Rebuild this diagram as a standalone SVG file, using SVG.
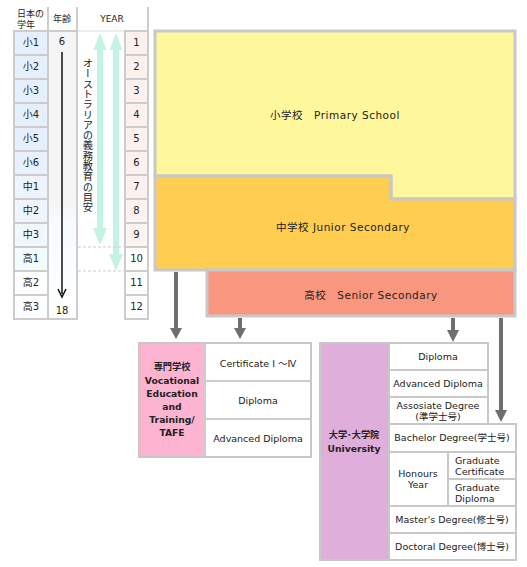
<svg xmlns="http://www.w3.org/2000/svg" width="527" height="567" viewBox="0 0 527 567">
<style>
text{font-family:"DejaVu Sans","Noto Sans CJK JP",sans-serif;fill:#222;}
.c{text-anchor:middle;}
.s{font-size:9.5px;}
.t{font-size:10px;}
.h{font-size:9px;}
.b{font-weight:bold;font-size:9.2px;}
.m{font-size:10.5px;letter-spacing:0.5px;}
.cell{stroke:#cccccc;stroke-width:2;}
.line{stroke:#cccccc;stroke-width:2;fill:none;}
.box{stroke:#c8c8c8;stroke-width:2;fill:#fff;}
.ga{stroke:#6e6e6e;stroke-width:4;fill:none;}
.gh{fill:#6e6e6e;}
.mint{fill:#c4f2e4;}
</style>
<defs>
<linearGradient id="ageg" x1="0" y1="0" x2="0" y2="1">
<stop offset="0" stop-color="#f5f5f5"/>
<stop offset="0.6" stop-color="#f5f5f5"/>
<stop offset="0.66" stop-color="#f6fbfe"/>
<stop offset="1" stop-color="#ffffff"/>
</linearGradient>
</defs>
<rect width="527" height="567" fill="#fff"/>

<g id="table">
<line class="line" x1="48" y1="7" x2="48" y2="31"/>
<line class="line" x1="77" y1="7" x2="77" y2="320"/>
<line class="line" x1="148" y1="7" x2="148" y2="31"/>
<line stroke="#dddddd" stroke-width="1" x1="77" y1="31" x2="125" y2="31"/>
<text class="h" x="17" y="17">日本の</text>
<text class="h" x="17" y="28">学年</text>
<text class="h c" x="62" y="22">年齢</text>
<text class="h c" x="112" y="22">YEAR</text>

<rect class="cell" x="14" y="31" width="34" height="24" fill="#e6f0fd"/>
<rect class="cell" x="14" y="55" width="34" height="24" fill="#e6f0fd"/>
<rect class="cell" x="14" y="79" width="34" height="24" fill="#e6f0fd"/>
<rect class="cell" x="14" y="103" width="34" height="24" fill="#e6f0fd"/>
<rect class="cell" x="14" y="127" width="34" height="24" fill="#e6f0fd"/>
<rect class="cell" x="14" y="151" width="34" height="24" fill="#e8f1fd"/>
<rect class="cell" x="14" y="175" width="34" height="24" fill="#eef3fd"/>
<rect class="cell" x="14" y="199" width="34" height="24" fill="#f0f4fd"/>
<rect class="cell" x="14" y="223" width="34" height="24" fill="#f2f6fd"/>
<rect class="cell" x="14" y="247" width="34" height="24" fill="#f3fcfc"/>
<rect class="cell" x="14" y="271" width="34" height="24" fill="#ffffff"/>
<rect class="cell" x="14" y="295" width="34" height="24" fill="#ffffff"/>
<g class="t">
<text class="c" x="31" y="46">小1</text>
<text class="c" x="31" y="70">小2</text>
<text class="c" x="31" y="94">小3</text>
<text class="c" x="31" y="118">小4</text>
<text class="c" x="31" y="142">小5</text>
<text class="c" x="31" y="166">小6</text>
<text class="c" x="31" y="190">中1</text>
<text class="c" x="31" y="214">中2</text>
<text class="c" x="31" y="238">中3</text>
<text class="c" x="31" y="262">高1</text>
<text class="c" x="31" y="286">高2</text>
<text class="c" x="31" y="310">高3</text>
</g>

<rect class="cell" x="48" y="31" width="29" height="288" fill="url(#ageg)"/>
<text class="t c" x="62" y="45">6</text>
<text class="t c" x="62" y="314">18</text>
<line x1="62" y1="52" x2="62" y2="294" stroke="#111" stroke-width="1.5"/>
<path d="M58 289 L62 297 L66 289" stroke="#111" stroke-width="1.5" fill="none"/>

<path class="mint" d="M100 33 L106.5 50 L103 50 L103 228 L107 228 L100 245 L93 228 L97 228 L97 50 L93.5 50 Z"/>
<path class="mint" d="M116 33 L122.5 50 L119 50 L119 254 L123 254 L116 271 L109 254 L113 254 L113 50 L109.5 50 Z"/>
<text x="88" y="58" style="writing-mode:vertical-rl;font-size:10.3px;font-family:'Noto Sans CJK JP',sans-serif">オーストラリアの義務教育の目安</text>
<line x1="78" y1="247" x2="124" y2="247" stroke="#cccccc" stroke-width="1" stroke-dasharray="3,2"/>
<line x1="78" y1="271" x2="124" y2="271" stroke="#cccccc" stroke-width="1" stroke-dasharray="3,2"/>

<rect class="cell" x="125" y="31" width="23" height="24" fill="#fdf1ef"/>
<rect class="cell" x="125" y="55" width="23" height="24" fill="#fdf1ef"/>
<rect class="cell" x="125" y="79" width="23" height="24" fill="#fdf1ef"/>
<rect class="cell" x="125" y="103" width="23" height="24" fill="#fdf1ef"/>
<rect class="cell" x="125" y="127" width="23" height="24" fill="#fdf1ef"/>
<rect class="cell" x="125" y="151" width="23" height="24" fill="#fdf1ef"/>
<rect class="cell" x="125" y="175" width="23" height="24" fill="#fdf1ef"/>
<rect class="cell" x="125" y="199" width="23" height="24" fill="#fdf2f0"/>
<rect class="cell" x="125" y="223" width="23" height="24" fill="#fdf4f2"/>
<rect class="cell" x="125" y="247" width="23" height="24" fill="#ffffff"/>
<rect class="cell" x="125" y="271" width="23" height="24" fill="#ffffff"/>
<rect class="cell" x="125" y="295" width="23" height="24" fill="#ffffff"/>
<g class="t">
<text class="c" x="136.5" y="46">1</text>
<text class="c" x="136.5" y="70">2</text>
<text class="c" x="136.5" y="94">3</text>
<text class="c" x="136.5" y="118">4</text>
<text class="c" x="136.5" y="142">5</text>
<text class="c" x="136.5" y="166">6</text>
<text class="c" x="136.5" y="190">7</text>
<text class="c" x="136.5" y="214">8</text>
<text class="c" x="136.5" y="238">9</text>
<text class="c" x="136.5" y="262">10</text>
<text class="c" x="136.5" y="286">11</text>
<text class="c" x="136.5" y="310">12</text>
</g>
</g>

<g id="primary">
<path d="M155 31 L515 31 L515 199 L391 199 L391 176 L155 176 Z" fill="#fff79b" stroke="#c8c8c8" stroke-width="3"/>
<text class="m c" x="335" y="119">小学校　Primary School</text>
</g>
<g id="junior">
<path d="M155 176 L391 176 L391 199 L515 199 L515 270 L155 270 Z" fill="#ffcd50" stroke="#c8c8c8" stroke-width="3"/>
<text class="m c" x="343" y="231">中学校 Junior Secondary</text>
</g>
<g id="senior">
<rect x="207" y="270" width="308" height="46" fill="#f9977e" stroke="#c8c8c8" stroke-width="3"/>
<text class="m c" x="371" y="299">高校　Senior Secondary</text>
</g>

<g id="connectors">
<line class="ga" x1="176" y1="272" x2="176" y2="330"/>
<path class="gh" d="M170 328 L182 328 L176 339 Z"/>
<line class="ga" x1="240" y1="318" x2="240" y2="330"/>
<path class="gh" d="M234 328 L246 328 L240 339 Z"/>
<line class="ga" x1="453" y1="318" x2="453" y2="332"/>
<path class="gh" d="M447 330 L459 330 L453 342 Z"/>
<line class="ga" x1="501" y1="318" x2="501" y2="412"/>
<path class="gh" d="M495 410 L507 410 L501 422 Z"/>
</g>

<g id="vocational">
<rect class="box" x="139" y="343" width="172" height="114"/>
<rect x="140" y="344" width="64" height="112" fill="#fdb4d0"/>
<line class="line" x1="205" y1="343" x2="205" y2="457"/>
<line class="line" x1="205" y1="381" x2="311" y2="381"/>
<line class="line" x1="205" y1="419" x2="311" y2="419"/>
<g class="b">
<text class="c" x="172" y="370">専門学校</text>
<text class="c" x="172" y="384">Vocational</text>
<text class="c" x="172" y="397">Education</text>
<text class="c" x="172" y="410">and</text>
<text class="c" x="172" y="423">Training/</text>
<text class="c" x="172" y="436">TAFE</text>
</g>
<text class="s c" x="258" y="367">Certificate Ⅰ ～Ⅳ</text>
<text class="s c" x="258" y="404">Diploma</text>
<text class="s c" x="258" y="442">Advanced Diploma</text>
</g>

<g id="university">
<rect x="320" y="343" width="69" height="217" fill="#dfaeda" stroke="#c8c8c8" stroke-width="2"/>
<rect class="box" x="389" y="343" width="99" height="27"/>
<rect class="box" x="389" y="370" width="99" height="27"/>
<rect class="box" x="389" y="397" width="99" height="27"/>
<rect class="box" x="389" y="424" width="127" height="28"/>
<rect class="box" x="389" y="452" width="59" height="54"/>
<rect class="box" x="448" y="452" width="68" height="27"/>
<rect class="box" x="448" y="479" width="68" height="27"/>
<rect class="box" x="389" y="506" width="127" height="27"/>
<rect class="box" x="389" y="533" width="127" height="27"/>
<g class="b">
<text class="c" x="354" y="438">大学･大学院</text>
<text class="c" x="354" y="452">University</text>
</g>
<text class="s c" x="438" y="360">Diploma</text>
<text class="s c" x="438" y="387">Advanced Diploma</text>
<text class="s c" x="438" y="409">Assosiate Degree</text>
<text class="s c" x="438" y="420">(準学士号)</text>
<text class="s c" x="452" y="441">Bachelor Degree(学士号)</text>
<text class="s c" x="418" y="477">Honours</text>
<text class="s c" x="418" y="488">Year</text>
<text class="s" x="455" y="464">Graduate</text>
<text class="s" x="455" y="475">Certificate</text>
<text class="s" x="455" y="491">Graduate</text>
<text class="s" x="455" y="502">Diploma</text>
<text class="s c" x="452" y="523">Master's Degree(修士号)</text>
<text class="s c" x="452" y="550">Doctoral Degree(博士号)</text>
</g>
</svg>
